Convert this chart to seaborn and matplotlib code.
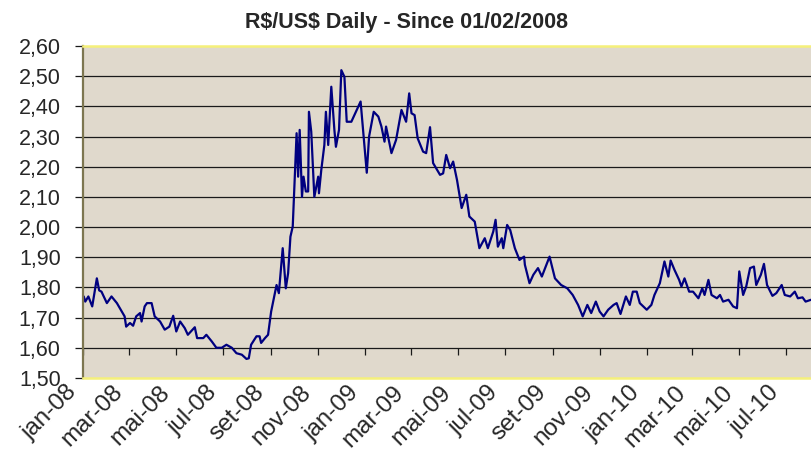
import pandas as pd
import seaborn as sns
import matplotlib.pyplot as plt
import matplotlib.dates as mdates
import matplotlib.transforms as mtransforms
from matplotlib.ticker import FuncFormatter

dates = [
    "2008-01-02", "2008-01-04", "2008-01-08", "2008-01-13", "2008-01-19", "2008-01-22",
    "2008-01-25", "2008-02-01", "2008-02-07", "2008-02-14", "2008-02-24", "2008-02-26",
    "2008-03-02", "2008-03-06", "2008-03-10", "2008-03-15", "2008-03-17", "2008-03-21",
    "2008-03-24", "2008-03-30", "2008-04-03", "2008-04-10", "2008-04-16", "2008-04-22",
    "2008-04-27", "2008-05-01", "2008-05-06", "2008-05-12", "2008-05-16", "2008-05-25",
    "2008-05-28", "2008-06-05", "2008-06-09", "2008-06-16", "2008-06-22", "2008-06-29",
    "2008-07-05", "2008-07-12", "2008-07-18", "2008-07-25", "2008-07-31", "2008-08-03",
    "2008-08-06", "2008-08-13", "2008-08-17", "2008-08-19", "2008-08-24", "2008-08-28",
    "2008-09-01", "2008-09-08", "2008-09-11", "2008-09-16", "2008-09-20", "2008-09-23",
    "2008-09-26", "2008-09-29", "2008-10-04", "2008-10-06", "2008-10-08", "2008-10-11",
    "2008-10-13", "2008-10-16", "2008-10-19", "2008-10-20", "2008-10-23", "2008-10-27",
    "2008-11-01", "2008-11-02", "2008-11-05", "2008-11-09", "2008-11-11", "2008-11-14",
    "2008-11-18", "2008-11-22", "2008-11-24", "2008-11-28", "2008-12-01", "2008-12-05",
    "2008-12-08", "2008-12-14", "2008-12-21", "2008-12-26", "2008-12-29", "2009-01-03",
    "2009-01-06", "2009-01-12", "2009-01-18", "2009-01-22", "2009-01-26", "2009-01-28",
    "2009-02-04", "2009-02-10", "2009-02-17", "2009-02-23", "2009-02-27", "2009-03-02",
    "2009-03-06", "2009-03-10", "2009-03-17", "2009-03-21", "2009-03-26", "2009-03-30",
    "2009-04-08", "2009-04-12", "2009-04-16", "2009-04-21", "2009-04-25", "2009-04-30",
    "2009-05-06", "2009-05-12", "2009-05-16", "2009-05-23", "2009-05-29", "2009-06-05",
    "2009-06-09", "2009-06-16", "2009-06-19", "2009-06-22", "2009-06-27", "2009-06-29",
    "2009-07-04", "2009-07-08", "2009-07-14", "2009-07-20", "2009-07-26", "2009-07-27",
    "2009-08-02", "2009-08-07", "2009-08-13", "2009-08-18", "2009-08-23", "2009-08-28",
    "2009-09-04", "2009-09-12", "2009-09-20", "2009-09-27", "2009-10-04", "2009-10-10",
    "2009-10-16", "2009-10-21", "2009-10-27", "2009-11-01", "2009-11-06", "2009-11-12",
    "2009-11-19", "2009-11-23", "2009-11-28", "2009-12-05", "2009-12-10", "2009-12-14",
    "2009-12-19", "2009-12-23", "2010-01-01", "2010-01-07", "2010-01-11", "2010-01-18",
    "2010-01-24", "2010-01-29", "2010-02-01", "2010-02-06", "2010-02-12", "2010-02-15",
    "2010-02-19", "2010-02-25", "2010-03-02", "2010-03-09", "2010-03-14", "2010-03-17",
    "2010-03-22", "2010-03-26", "2010-04-02", "2010-04-06", "2010-04-10", "2010-04-17",
    "2010-04-23", "2010-04-28", "2010-05-01", "2010-05-06", "2010-05-10", "2010-05-15",
    "2010-05-20", "2010-05-23", "2010-05-29", "2010-06-02", "2010-06-06", "2010-06-13",
    "2010-06-18", "2010-06-25", "2010-06-29", "2010-07-06", "2010-07-12", "2010-07-16",
    "2010-07-22", "2010-07-26", "2010-08-02",
]

rates = [
    1.770, 1.753, 1.770, 1.737, 1.830, 1.790,
    1.786, 1.748, 1.770, 1.748, 1.704, 1.670,
    1.682, 1.673, 1.704, 1.715, 1.687, 1.737,
    1.748, 1.748, 1.704, 1.687, 1.660, 1.670,
    1.706, 1.654, 1.687, 1.665, 1.643, 1.668,
    1.632, 1.632, 1.643, 1.621, 1.600, 1.600,
    1.610, 1.600, 1.582, 1.577, 1.563, 1.565,
    1.610, 1.638, 1.638, 1.616, 1.632, 1.643,
    1.720, 1.808, 1.781, 1.930, 1.797, 1.847,
    1.968, 2.002, 2.311, 2.167, 2.322, 2.100,
    2.167, 2.118, 2.118, 2.382, 2.316, 2.100,
    2.167, 2.112, 2.189, 2.272, 2.382, 2.272,
    2.465, 2.322, 2.266, 2.322, 2.520, 2.498,
    2.349, 2.349, 2.388, 2.416, 2.327, 2.180,
    2.300, 2.382, 2.366, 2.333, 2.283, 2.333,
    2.245, 2.289, 2.388, 2.349, 2.443, 2.377,
    2.371, 2.294, 2.250, 2.245, 2.331, 2.212,
    2.173, 2.178, 2.239, 2.195, 2.217, 2.156,
    2.063, 2.107, 2.035, 2.018, 1.930, 1.963,
    1.930, 1.985, 2.024, 1.935, 1.963, 1.930,
    2.007, 1.990, 1.930, 1.891, 1.902, 1.875,
    1.814, 1.842, 1.864, 1.836, 1.869, 1.902,
    1.830, 1.808, 1.797, 1.775, 1.742, 1.704,
    1.742, 1.715, 1.753, 1.720, 1.704, 1.726,
    1.742, 1.748, 1.712, 1.770, 1.742, 1.786,
    1.786, 1.748, 1.726, 1.742, 1.775, 1.814,
    1.886, 1.836, 1.889, 1.858, 1.825, 1.803,
    1.830, 1.786, 1.786, 1.764, 1.797, 1.775,
    1.825, 1.775, 1.764, 1.775, 1.753, 1.759,
    1.737, 1.731, 1.853, 1.775, 1.803, 1.864,
    1.869, 1.808, 1.842, 1.878, 1.808, 1.772,
    1.781, 1.808, 1.775, 1.770, 1.786, 1.764,
    1.767, 1.753, 1.759,
]

month_pt = ["jan", "fev", "mar", "abr", "mai", "jun",
            "jul", "ago", "set", "out", "nov", "dez"]

df = pd.DataFrame({"Data": pd.to_datetime(dates), "Taxa": rates})

sns.set_theme(style="white")
plt.rcParams["font.family"] = ["Liberation Sans", "DejaVu Sans"]

fig = plt.figure(figsize=(8.11, 4.51), dpi=100)
ax = fig.add_axes([0.1023, 0.162, 0.8977, 0.736])
ax.set_facecolor("#e0d9cc")

sns.lineplot(data=df, x="Data", y="Taxa", ax=ax, color="#000080", linewidth=1.6)

ax.set_xlim(pd.Timestamp("2008-01-01"), pd.Timestamp("2010-08-02"))
ax.set_ylim(1.50, 2.60)
ax.set_yticks([1.5 + 0.1 * i for i in range(12)])
ax.yaxis.set_major_formatter(FuncFormatter(lambda v, p: f"{v:.2f}".replace(".", ",")))

ax.xaxis.set_major_locator(mdates.MonthLocator(bymonth=[1, 3, 5, 7, 9, 11]))
ax.xaxis.set_major_formatter(FuncFormatter(
    lambda v, p: f"{month_pt[mdates.num2date(v).month - 1]}-{mdates.num2date(v).year % 100:02d}"))

for yv in [1.6 + 0.1 * i for i in range(10)]:
    ax.axhline(yv, color="#1a1a1a", linewidth=0.9, zorder=1)

# Excel draws the category-axis ticks on the 1,60 line
ticks = ax.get_xticks()
ax.vlines(ticks, 1.577, 1.60, color="#1a1a1a", linewidth=0.9, zorder=1)

ax.tick_params(axis="y", which="major", direction="out", length=6, width=0.9,
               color="#1a1a1a", labelsize=15.5, pad=10, left=True)
ax.tick_params(axis="x", which="major", length=0, labelsize=17.5, pad=8)
shift = mtransforms.ScaledTranslation(-0.10, 0, fig.dpi_scale_trans)
for lab in ax.get_xticklabels():
    lab.set_rotation(45)
    lab.set_ha("right")
    lab.set_va("center")
    lab.set_rotation_mode("anchor")
    lab.set_transform(lab.get_transform() + shift)

ax.set_xlabel("")
ax.set_ylabel("")
ax.set_title(r"R\$/US\$ Daily - Since 01/02/2008", fontsize=15.5,
             fontweight="bold", pad=13, x=0.444)

for side in ["top", "bottom"]:
    ax.spines[side].set_color("#f5f07a")
    ax.spines[side].set_linewidth(1.8)
ax.spines["left"].set_color("#7d7650")
ax.spines["left"].set_linewidth(1.6)
ax.spines["right"].set_visible(False)

fig.savefig("out.png", dpi=100)
